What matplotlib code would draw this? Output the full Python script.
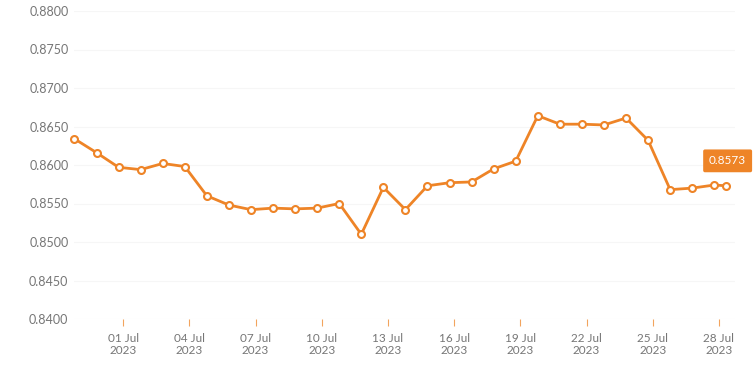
import matplotlib
matplotlib.use('Agg')
import matplotlib.pyplot as plt
import matplotlib.dates as mdates
import pandas as pd

# daily rates, last point is the latest quote
rate_dates = list(pd.date_range('2023-06-28 19:00', periods=30, freq='D')) + [pd.Timestamp('2023-07-28 08:00')]
rates = [0.8634, 0.8616, 0.8597, 0.8594, 0.8602, 0.8598, 0.8560, 0.8548, 0.8542, 0.8544,
         0.8543, 0.8544, 0.8550, 0.8510, 0.8571, 0.8542, 0.8573, 0.8577, 0.8578, 0.8595,
         0.8605, 0.8664, 0.8653, 0.8653, 0.8652, 0.8661, 0.8632, 0.8568, 0.8570, 0.8574,
         0.8573]
tick_dates = pd.date_range('2023-07-01', '2023-07-28', freq='3D')
y_ticks = [0.8400, 0.8450, 0.8500, 0.8550, 0.8600, 0.8650, 0.8700, 0.8750, 0.8800]

ORANGE = '#EE8427'
GREY = '#767676'

plt.rcParams['font.family'] = ['Lato', 'DejaVu Sans']

fig = plt.figure(figsize=(7.56, 3.75), dpi=100)
ax = fig.add_axes([74 / 756, 1 - 319 / 375, (735 - 74) / 756, (319 - 11) / 375])

ax.plot(rate_dates, rates, color=ORANGE, lw=2.0, marker='o', ms=5,
        mfc='white', mec=ORANGE, mew=1.5, zorder=3, clip_on=False)

ax.set_ylim(0.84, 0.88)
ax.set_yticks(y_ticks)
ax.set_yticklabels([f'{v:.4f}' for v in y_ticks])
x0 = pd.Timestamp('2023-07-01') - pd.Timedelta(days=2.23)
x1 = pd.Timestamp('2023-07-01') + pd.Timedelta(days=27.73)
ax.set_xlim(x0, x1)
ax.set_xticks(tick_dates)
ax.xaxis.set_major_formatter(mdates.DateFormatter('%d %b\n%Y'))

ax.grid(axis='y', color='#f6f6f6', lw=0.8)
ax.set_axisbelow(True)
for s in ax.spines.values():
    s.set_visible(False)

ax.tick_params(axis='y', length=0, pad=4, labelsize=9, labelcolor=GREY)
ax.tick_params(axis='x', length=5, width=0.8, color='#F2A45E', pad=5,
               labelsize=8.5, labelcolor=GREY, direction='out')
for lbl in ax.get_xticklabels():
    lbl.set_linespacing(1.1)

# latest value tag
ax.annotate(f'{rates[-1]:.4f}', xy=(rate_dates[-1], rates[-1]), xytext=(1, 14),
            textcoords='offset points', ha='center', va='bottom',
            color='white', fontsize=8.5,
            bbox=dict(boxstyle='round,pad=0.5,rounding_size=0.15', fc=ORANGE, ec='none'),
            annotation_clip=False)

fig.savefig('out.png', dpi=100)
